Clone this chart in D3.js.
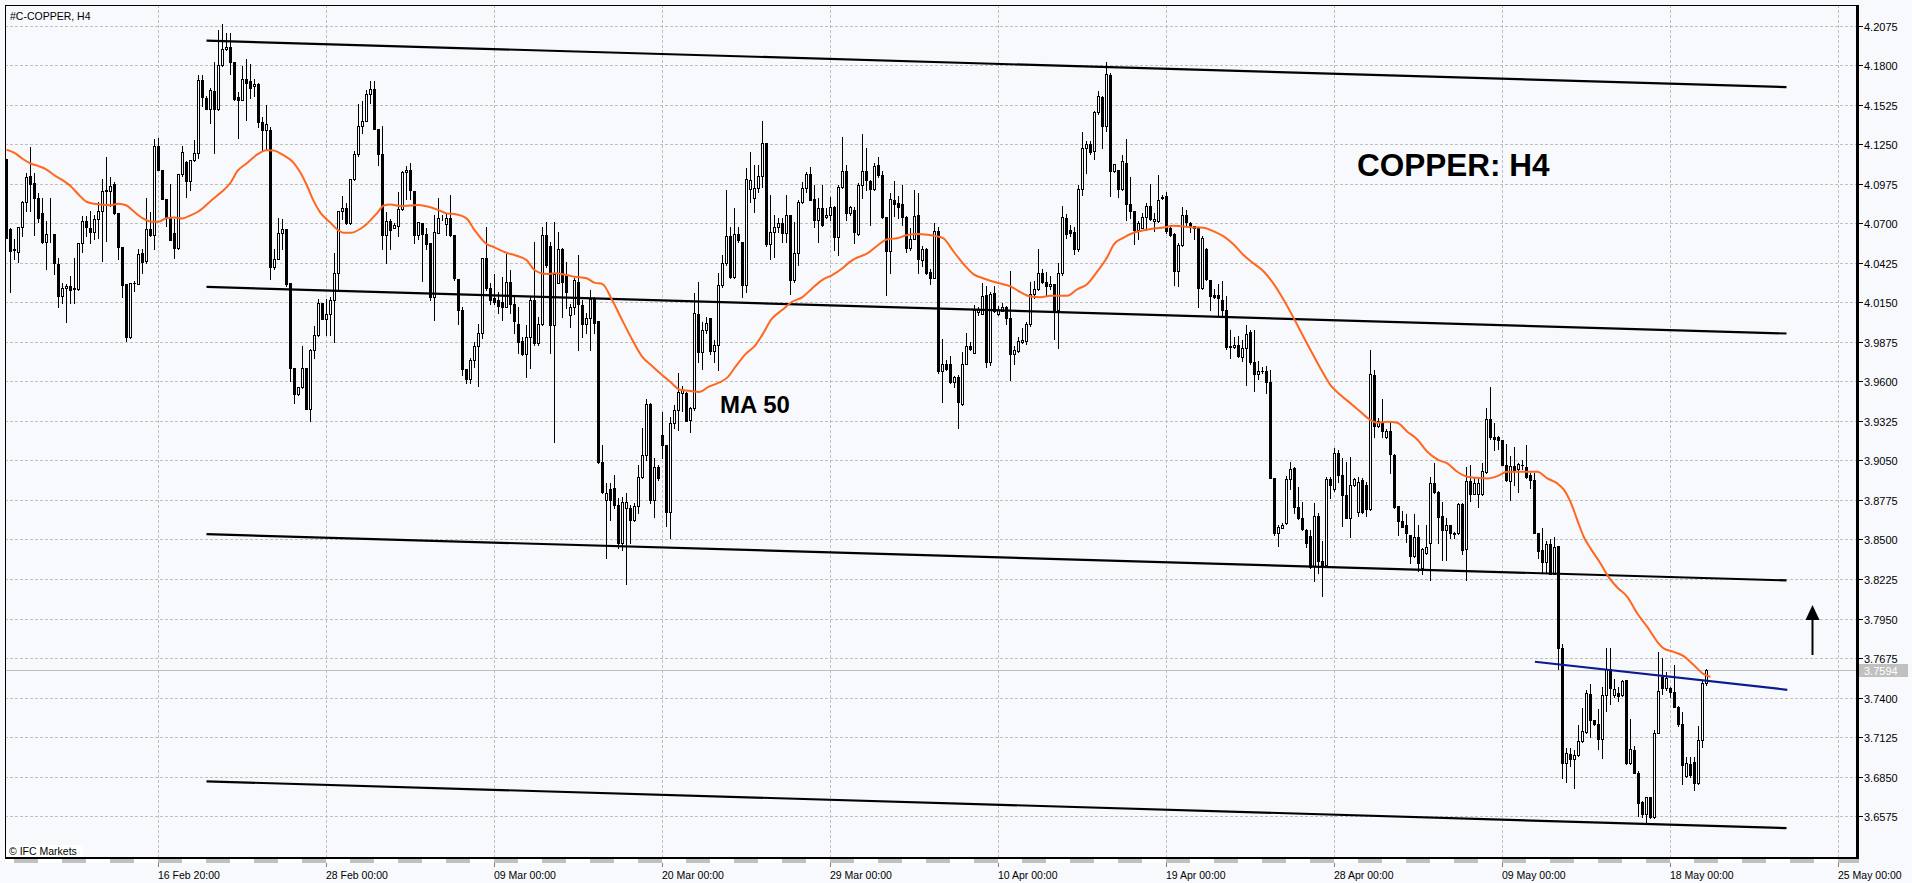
<!DOCTYPE html>
<html>
<head>
<meta charset="utf-8">
<script src="https://cdnjs.cloudflare.com/ajax/libs/d3/7.8.5/d3.min.js"></script>
<style>
html,body{margin:0;padding:0;background:#f8f9fd;overflow:hidden;}
svg{display:block;}
text{font-family:"Liberation Sans",Arial,sans-serif;}
</style>
</head>
<body>
<svg id="chart" width="1912" height="883"></svg>
<script>
// ---------------- DATA ----------------
const chartTitle = "#C-COPPER, H4";
const openP = [
4.1144,4.0662,4.0518,4.0502,4.0676,4.0847,4.1028,4.0982,4.0877,4.0769,
4.0569,4.0623,4.0623,4.0414,4.0194,4.0252,4.0264,4.0240,4.0245,4.0565,
4.0715,4.0669,4.0639,4.0727,4.0789,4.0928,4.0928,4.0970,4.0773,4.0534,
4.0280,3.9909,4.0287,4.0280,4.0495,4.0437,4.0657,4.0616,4.1237,4.1074,
4.0870,4.0738,4.0634,4.0525,4.1040,4.1125,4.0993,4.1139,4.1190,4.1700,
4.1572,4.1496,4.1623,4.1496,4.1804,4.1913,4.1927,4.1820,4.1579,4.1556,
4.1705,4.1693,4.1654,4.1672,4.1403,4.1348,4.1348,4.0395,4.0453,4.0634,
4.0657,4.0287,3.9696,3.9510,3.9561,3.9696,3.9406,3.9819,3.9920,4.0143,
4.0036,4.0066,4.0166,4.0356,4.0785,4.0808,4.0699,4.1005,4.1179,4.1380,
4.1410,4.1603,4.1635,4.1357,4.1179,4.0616,4.0715,4.0669,4.0681,4.0801,
4.1056,4.1074,4.0924,4.0616,4.0699,4.0623,4.0560,4.0189,4.0635,4.0727,
4.0695,4.0734,4.0618,4.0312,4.0096,3.9683,3.9614,3.9748,3.9846,3.9939,
4.0456,4.0247,4.0178,4.0166,4.0154,4.0120,4.0294,4.0138,3.9999,3.9883,
3.9790,3.9911,4.0166,3.9864,3.9999,4.0618,4.0542,3.9992,4.0287,4.0519,
4.0340,4.0062,4.0120,4.0294,4.0131,3.9999,4.0038,4.0171,4.0022,3.9041,
3.8774,3.8848,3.8855,3.8739,3.8472,3.8716,3.8716,3.8635,3.8732,3.8936,
3.9087,3.9442,3.8774,3.9006,3.9226,3.9157,3.8693,3.9312,3.9400,3.9516,
3.9516,3.9331,3.9412,4.0066,3.9806,3.9957,4.0038,3.9813,3.9853,4.0270,
4.0421,4.0611,4.0324,4.0623,4.0572,4.0270,4.0936,4.0874,4.0943,4.1031,
4.1256,4.0553,4.0642,4.0672,4.0704,4.0630,4.0758,4.0305,4.0495,4.0850,
4.0943,4.1043,4.0867,4.0723,4.0809,4.0746,4.0758,4.0816,4.0602,4.0950,
4.1064,4.0769,4.0793,4.0626,4.0967,4.1061,4.0992,4.0937,4.1106,4.1036,
4.0743,4.0509,4.0862,4.0842,4.0832,4.0743,4.0527,4.0594,4.0758,4.0445,
4.0519,4.0360,4.0321,4.0644,3.9670,3.9719,3.9719,3.9595,3.9632,3.9446,
3.9724,3.9848,3.9799,4.0080,4.0072,4.0204,3.9732,4.0216,4.0072,4.0092,
4.0117,4.0042,3.9789,3.9814,3.9873,3.9881,3.9998,4.0211,4.0246,4.0353,
4.0291,4.0261,4.0278,4.0097,4.0353,4.0738,4.0651,4.0639,4.0519,4.0942,
4.1223,4.1252,4.1205,4.1471,4.1578,4.1379,4.1732,4.1061,4.1074,4.0937,
4.1123,4.0833,4.0783,4.0651,4.0669,4.0743,4.0818,4.0713,4.0718,4.0882,
4.0887,4.0669,4.0626,4.0365,4.0552,4.0758,4.0701,4.0683,4.0664,4.0253,
4.0519,4.0308,4.0204,4.0201,4.0167,4.0097,3.9848,3.9838,3.9856,3.9769,
3.9831,3.9943,3.9732,3.9650,3.9675,3.9670,3.9598,3.8925,3.8542,3.8577,
3.8612,3.8918,3.8994,3.8728,3.8647,3.8565,3.8523,3.8315,3.8663,3.8352,
3.8322,3.8918,3.8848,3.9103,3.8948,3.8809,3.8651,3.8878,3.8693,3.8913,
3.8878,3.8709,3.9644,3.9289,3.9319,3.9210,3.9257,3.9087,3.8732,3.8630,
3.8600,3.8530,3.8384,3.8519,3.8298,3.8407,3.8472,3.8890,3.8832,3.8665,
3.8565,3.8600,3.8547,3.8542,3.8746,3.8431,3.8909,3.8816,3.8816,3.8816,
3.8971,3.9335,3.9210,3.9210,3.9192,3.9018,3.8909,3.9011,3.8987,3.9018,
3.9001,3.8948,3.8913,3.8542,3.8426,3.8345,3.8468,3.8259,3.8454,3.7742,
3.6946,3.7006,3.6969,3.7000,3.7099,3.7162,3.7428,3.7243,3.7215,3.7115,
3.7417,3.7602,3.7417,3.7433,3.7417,3.7521,3.6946,3.7034,3.6876,3.6674,
3.6589,3.6705,3.6570,3.7155,3.7540,3.7463,3.7463,3.7440,3.7336,3.7215,
3.6853,3.6941,3.6953,3.6802,3.7104,3.7498];
const highP = [
4.1144,4.0669,4.0588,4.0676,4.0854,4.1047,4.1230,4.1051,4.0912,4.0877,
4.0715,4.0877,4.0623,4.0460,4.0287,4.0275,4.0333,4.0460,4.0565,4.0750,
4.0750,4.0785,4.0755,4.0847,4.1010,4.1160,4.1021,4.0989,4.0773,4.0534,
4.0280,4.0287,4.0298,4.0518,4.0518,4.0877,4.0778,4.1288,4.1294,4.1074,
4.0870,4.0970,4.0727,4.1040,4.1237,4.1132,4.1139,4.1283,4.1735,4.1735,
4.1584,4.1642,4.1820,4.2047,4.2089,4.2024,4.2024,4.1820,4.1612,4.1797,
4.1844,4.1809,4.1705,4.1677,4.1440,4.1526,4.1371,4.0518,4.0738,4.0727,
4.0657,4.0287,3.9696,3.9561,3.9846,3.9696,3.9823,3.9985,4.0171,4.0143,
4.0171,4.0189,4.0495,4.0785,4.0889,4.0843,4.1005,4.1202,4.1531,4.1549,
4.1630,4.1688,4.1688,4.1357,4.1380,4.0778,4.0727,4.0704,4.0917,4.1063,
4.1102,4.1121,4.0924,4.0711,4.0704,4.0669,4.0560,4.0758,4.0874,4.0758,
4.0769,4.0897,4.0618,4.0312,4.0120,3.9683,3.9760,3.9876,4.0000,4.0456,
4.0676,4.0287,4.0347,4.0224,4.0328,4.0486,4.0375,4.0189,4.0120,3.9911,
3.9992,4.0189,4.0572,4.0050,4.0672,4.0711,4.0572,4.0711,4.0642,4.0526,
4.0433,4.0138,4.0317,4.0479,4.0166,4.0073,4.0236,4.0189,4.0022,3.9157,
3.8890,3.8890,3.8948,3.8786,3.8797,3.8820,3.8739,3.8751,3.9018,3.9273,
3.9475,3.9451,3.9064,3.9018,3.9389,3.9157,3.9354,3.9435,3.9656,3.9567,
3.9528,3.9424,4.0217,4.0294,4.0015,4.0050,4.0038,3.9888,4.0352,4.0479,
4.0932,4.0676,4.0804,4.0676,4.0572,4.1082,4.1198,4.1106,4.1106,4.1414,
4.1256,4.0897,4.0758,4.0734,4.0734,4.0897,4.0758,4.0711,4.0862,4.0990,
4.1059,4.1094,4.0966,4.0874,4.0966,4.0804,4.0885,4.0820,4.0966,4.1303,
4.1106,4.0820,4.0813,4.0982,4.1322,4.1223,4.0999,4.1123,4.1161,4.1061,
4.0743,4.0912,4.0991,4.0887,4.0967,4.0751,4.0664,4.0932,4.0912,4.0539,
4.0527,4.0385,4.0701,4.0676,3.9893,3.9749,3.9774,3.9640,3.9645,3.9806,
3.9935,3.9873,4.0129,4.0117,4.0286,4.0266,4.0221,4.0261,4.0122,4.0147,
4.0122,4.0370,3.9843,3.9906,3.9968,4.0013,4.0291,4.0296,4.0519,4.0385,
4.0360,4.0335,4.0278,4.0427,4.0818,4.0763,4.0688,4.0676,4.0967,4.1334,
4.1272,4.1272,4.1484,4.1620,4.1588,4.1819,4.1745,4.1116,4.1074,4.1173,
4.1285,4.1024,4.0788,4.0713,4.0775,4.0842,4.0974,4.0775,4.1036,4.0900,
4.0917,4.0688,4.0634,4.0564,4.0813,4.0793,4.0708,4.0683,4.0676,4.0614,
4.0527,4.0308,4.0246,4.0278,4.0296,4.0191,3.9955,3.9906,3.9913,3.9888,
3.9993,3.9955,3.9955,3.9744,3.9699,3.9707,3.9679,3.8925,3.8600,3.8612,
3.8941,3.9041,3.9001,3.8862,3.8762,3.8570,3.8565,3.8751,3.8681,3.8491,
3.8932,3.8936,3.9134,3.9122,3.9064,3.9041,3.9076,3.8925,3.8936,3.8925,
3.8902,3.9818,3.9679,3.9342,3.9475,3.9266,3.9319,3.9094,3.8732,3.8700,
3.8674,3.8530,3.8677,3.8600,3.8438,3.8600,3.8936,3.9029,3.8839,3.8762,
3.8646,3.8600,3.8554,3.8755,3.8751,3.9006,3.9018,3.8936,3.8918,3.9029,
3.9412,3.9563,3.9308,3.9219,3.9192,3.9164,3.9080,3.9145,3.9034,3.9052,
3.9157,3.8960,3.8960,3.8547,3.8577,3.8491,3.8500,3.8519,3.8454,3.7772,
3.7046,3.7046,3.7034,3.7208,3.7324,3.7452,3.7493,3.7247,3.7317,3.7475,
3.7742,3.7742,3.7526,3.7475,3.7521,3.7521,3.7254,3.7062,3.6890,3.6681,
3.6710,3.6705,3.7173,3.7718,3.7672,3.7579,3.7475,3.7626,3.7340,3.7301,
3.6983,3.6983,3.6988,3.7201,3.7521,3.7602];
const lowP = [
4.0599,4.0222,4.0449,4.0430,4.0611,4.0785,4.0785,4.0616,4.0708,4.0565,
4.0384,4.0569,4.0344,4.0120,4.0148,4.0013,4.0148,4.0148,4.0236,4.0500,
4.0611,4.0565,4.0588,4.0599,4.0437,4.0576,4.0819,4.0766,4.0453,4.0189,
3.9881,3.9904,4.0229,4.0280,4.0356,4.0426,4.0611,4.0523,4.1070,4.0866,
4.0680,4.0583,4.0460,4.0518,4.1028,4.0882,4.0935,4.1132,4.1155,4.1519,
4.1496,4.1399,4.1190,4.1491,4.1793,4.1909,4.1742,4.1561,4.1294,4.1556,
4.1422,4.1573,4.1584,4.1369,4.1202,4.1213,4.0314,4.0379,4.0449,4.0518,
4.0264,3.9603,3.9452,3.9503,3.9557,3.9406,3.9325,3.9765,3.9916,4.0032,
3.9920,3.9920,3.9874,4.0229,4.0727,4.0692,4.0692,4.1000,4.1167,4.1329,
4.1410,4.1538,4.1357,4.1109,4.0518,4.0426,4.0523,4.0667,4.0611,4.0796,
4.0866,4.0866,4.0560,4.0588,4.0298,4.0518,4.0166,4.0027,4.0630,4.0723,
4.0618,4.0611,4.0305,3.9999,3.9644,3.9586,3.9586,3.9702,3.9567,3.9899,
4.0236,4.0138,4.0138,4.0073,4.0027,4.0115,4.0073,3.9934,3.9795,3.9783,
3.9632,3.9690,3.9853,3.9853,3.9992,4.0398,3.9795,3.9180,4.0282,4.0050,
4.0108,3.9980,4.0069,3.9818,3.9911,3.9934,3.9818,3.9934,3.9029,3.8825,
3.8368,3.8635,3.8716,3.8438,3.8426,3.8189,3.8472,3.8630,3.8681,3.8925,
3.9052,3.8751,3.8658,3.8913,3.9064,3.8593,3.8507,3.9273,3.9261,3.9396,
3.9326,3.9250,3.9400,3.9737,3.9683,3.9934,3.9790,3.9737,3.9679,4.0259,
4.0410,4.0317,4.0317,4.0572,4.0189,4.0224,4.0850,4.0781,4.0920,4.0955,
4.0542,4.0449,4.0468,4.0642,4.0572,4.0572,4.0208,4.0294,4.0410,4.0839,
4.0920,4.0862,4.0676,4.0572,4.0681,4.0734,4.0723,4.0514,4.0479,4.0943,
4.0723,4.0758,4.0564,4.0619,4.0875,4.0932,4.0688,4.0932,4.1024,4.0738,
4.0204,4.0353,4.0750,4.0738,4.0688,4.0502,4.0514,4.0589,4.0353,4.0403,
4.0345,4.0278,4.0316,3.9657,3.9458,3.9682,3.9590,3.9558,3.9277,3.9433,
3.9719,3.9819,3.9799,4.0062,4.0067,3.9699,3.9714,4.0080,4.0062,4.0087,
3.9998,3.9607,3.9719,3.9806,3.9868,3.9863,3.9988,4.0179,4.0236,4.0286,
4.0196,4.0241,3.9898,3.9831,4.0340,4.0601,4.0614,4.0485,4.0509,4.0900,
4.1049,4.1185,4.1148,4.1464,4.1223,4.1339,4.0887,4.1056,4.0882,4.0932,
4.0726,4.0738,4.0559,4.0594,4.0664,4.0651,4.0726,4.0644,4.0708,4.0867,
4.0634,4.0614,4.0271,4.0266,4.0544,4.0683,4.0639,4.0594,4.0117,4.0246,
4.0303,4.0097,4.0179,4.0055,4.0047,3.9824,3.9764,3.9831,3.9769,3.9744,
3.9575,3.9724,3.9533,3.9620,3.9657,3.9516,3.8925,3.8530,3.8454,3.8577,
3.8607,3.8848,3.8681,3.8639,3.8565,3.8449,3.8298,3.8213,3.8268,3.8106,
3.8315,3.8786,3.8839,3.8902,3.8593,3.8646,3.8519,3.8871,3.8663,3.8681,
3.8663,3.8704,3.9210,3.9284,3.9210,3.9203,3.8964,3.8716,3.8530,3.8588,
3.8484,3.8333,3.8380,3.8282,3.8259,3.8398,3.8217,3.8825,3.8472,3.8356,
3.8356,3.8507,3.8507,3.8537,3.8398,3.8217,3.8769,3.8816,3.8728,3.8809,
3.8964,3.9196,3.9122,3.9127,3.9018,3.8909,3.8774,3.8878,3.8832,3.8987,
3.8925,3.8855,3.8542,3.8368,3.8268,3.8268,3.8259,3.8259,3.7602,3.6837,
3.6814,3.6923,3.6774,3.6992,3.7092,3.7155,3.7127,3.7208,3.7039,3.6976,
3.7308,3.7354,3.7405,3.7377,3.7412,3.6941,3.6937,3.6872,3.6575,3.6570,
3.6528,3.6565,3.6565,3.7150,3.7428,3.7452,3.7405,3.7331,3.7201,3.6798,
3.6848,3.6848,3.6760,3.6798,3.7057,3.7487];
const closeP = [
4.0599,4.0507,4.0514,4.0676,4.0847,4.1023,4.0975,4.0877,4.0738,4.0569,
4.0623,4.0627,4.0426,4.0194,4.0252,4.0264,4.0236,4.0249,4.0565,4.0715,
4.0676,4.0639,4.0727,4.0789,4.0928,4.0931,4.0963,4.0773,4.0534,4.0270,
3.9909,4.0287,4.0282,4.0488,4.0430,4.0657,4.0616,4.1241,4.1074,4.0870,
4.0738,4.0583,4.0525,4.1040,4.1195,4.0993,4.1139,4.1190,4.1700,4.1579,
4.1496,4.1630,4.1496,4.1804,4.1913,4.1927,4.1820,4.1568,4.1556,4.1705,
4.1677,4.1642,4.1672,4.1403,4.1348,4.1394,4.0395,4.0453,4.0634,4.0657,
4.0275,3.9696,3.9510,3.9561,3.9696,3.9411,3.9819,3.9920,4.0143,4.0036,
4.0066,4.0166,4.0356,4.0785,4.0808,4.0699,4.1005,4.1179,4.1380,4.1410,
4.1603,4.1635,4.1357,4.1179,4.0616,4.0715,4.0653,4.0685,4.0801,4.1056,
4.1074,4.0931,4.0616,4.0711,4.0623,4.0553,4.0189,4.0642,4.0734,4.0730,
4.0734,4.0618,4.0317,4.0096,3.9683,3.9614,3.9748,3.9846,3.9939,4.0456,
4.0247,4.0166,4.0154,4.0124,4.0120,4.0294,4.0138,4.0022,3.9876,3.9790,
3.9911,4.0166,3.9864,3.9999,4.0618,4.0410,3.9992,4.0347,4.0519,4.0294,
4.0224,4.0120,4.0305,4.0138,3.9999,4.0038,4.0171,4.0008,3.9041,3.8832,
3.8825,3.8774,3.8739,3.8472,3.8762,3.8758,3.8635,3.8732,3.8936,3.9087,
3.9442,3.8774,3.9006,3.8925,3.9157,3.8693,3.9312,3.9400,3.9528,3.9540,
3.9326,3.9412,4.0073,3.9806,3.9957,4.0008,3.9813,3.9853,4.0270,4.0421,
4.0611,4.0324,4.0623,4.0584,4.0270,4.1008,4.1001,4.0948,4.1031,4.1256,
4.0553,4.0642,4.0672,4.0700,4.0630,4.0758,4.0305,4.0495,4.0850,4.0943,
4.1043,4.0862,4.0723,4.0809,4.0688,4.0758,4.0816,4.0602,4.0950,4.1064,
4.0769,4.0811,4.0639,4.0967,4.1061,4.0999,4.0937,4.1098,4.1036,4.0743,
4.0509,4.0867,4.0837,4.0813,4.0743,4.0527,4.0594,4.0751,4.0452,4.0519,
4.0353,4.0321,4.0644,3.9670,3.9719,3.9689,3.9595,3.9632,3.9458,3.9724,
3.9843,3.9824,4.0097,4.0104,4.0196,3.9732,4.0211,4.0092,4.0097,4.0117,
4.0042,3.9789,3.9819,3.9881,3.9888,3.9998,4.0211,4.0241,4.0353,4.0291,
4.0266,4.0278,4.0097,4.0353,4.0743,4.0626,4.0634,4.0519,4.0942,4.1223,
4.1252,4.1198,4.1471,4.1583,4.1379,4.1737,4.1061,4.1111,4.0942,4.1131,
4.0833,4.0788,4.0651,4.0701,4.0743,4.0818,4.0733,4.0733,4.0862,4.0877,
4.0644,4.0619,4.0365,4.0552,4.0758,4.0708,4.0676,4.0664,4.0253,4.0601,
4.0311,4.0196,4.0186,4.0179,4.0097,3.9838,3.9838,3.9856,3.9774,3.9831,
3.9930,3.9732,3.9650,3.9675,3.9670,3.9595,3.8925,3.8542,3.8588,3.8600,
3.8918,3.8987,3.8723,3.8647,3.8570,3.8477,3.8310,3.8663,3.8352,3.8322,
3.8918,3.8878,3.9103,3.8948,3.8809,3.8651,3.8878,3.8918,3.8902,3.8693,
3.8709,3.9651,3.9289,3.9326,3.9257,3.9257,3.9094,3.8723,3.8630,3.8588,
3.8542,3.8384,3.8519,3.8333,3.8431,3.8449,3.8890,3.8832,3.8658,3.8565,
3.8600,3.8542,3.8537,3.8746,3.8426,3.8909,3.8816,3.8895,3.8890,3.8978,
3.9335,3.9210,3.9196,3.9192,3.9018,3.8913,3.9011,3.8983,3.9025,3.9015,
3.8932,3.8913,3.8542,3.8421,3.8345,3.8468,3.8259,3.8449,3.7742,3.6946,
3.7011,3.6969,3.7000,3.7099,3.7169,3.7433,3.7243,3.7215,3.7115,3.7417,
3.7602,3.7463,3.7456,3.7410,3.7517,3.6946,3.7039,3.6876,3.6667,3.6589,
3.6705,3.6570,3.7155,3.7447,3.7463,3.7533,3.7440,3.7336,3.7215,3.6930,
3.6946,3.6860,3.6802,3.7104,3.7498,3.7594];

// MA 50 line at bar positions
const maIndex = [0,2,4,6,8,10,12,14,16,18,20,22,24,26,28,30,32,34,36,38,40,42,44,46,48,51,53.5,56,57.7,60,62.7,65,66.8,69.3,71.8,73.5,75,76.8,78.5,81,82.7,84.3,86,88.5,90.2,92.7,94.3,96,98.5,101,103,105,108,110,112,115,117,120,122,125,127,130,132,135,137,140,142,145,147,149,151.4,153.9,156.4,158.9,161.4,163.9,166.4,168.1,170.6,173.1,175.6,178.1,180.25,182.25,184.75,187.25,188.9,191.4,193.9,196.4,198.9,201.4,203.9,206.4,208.9,210.6,212.25,213.5,215.2,217.7,220.2,222.7,225.2,227.7,230.2,232.7,234.3,236.8,239.3,241.8,244.3,247.7,251,253.5,256,258.5,261,265.2,267.7,270.2,272.7,275.2,276.8,279.3,281.8,284.3,286.8,289.3,291.8,294.3,296.8,299.3,301.8,304.3,306.8,309.3,311.8,314.3,316.8,318.5,326,328.5,331,333.5,336,338.5,341,342.7,345.2,347.7,350.2,352.7,355.2,357.7,360.2,362.7,365.2,367.7,370.2,372.7,375.2,380.2,382.7,385.2,387.7,389.3,391,392.7,394.3,396,398.5,400.2,402.7,405.2,407.7,410.2,412.7,414.3,416.8,419.3,421.8,424.3,426];
const maValue = [4.1213,4.1190,4.1149,4.1116,4.1098,4.1074,4.1033,4.1000,4.0959,4.0901,4.0850,4.0836,4.0829,4.0826,4.0836,4.0824,4.0778,4.0736,4.0713,4.0711,4.0736,4.0741,4.0734,4.0755,4.0782,4.0854,4.0912,4.0982,4.1063,4.1116,4.1179,4.1209,4.1206,4.1172,4.1121,4.1051,4.0970,4.0854,4.0773,4.0704,4.0657,4.0634,4.0634,4.0662,4.0699,4.0773,4.0824,4.0831,4.0819,4.0824,4.0828,4.0818,4.0792,4.0769,4.0765,4.0734,4.0653,4.0556,4.0533,4.0495,4.0479,4.0444,4.0375,4.0347,4.0352,4.0340,4.0328,4.0317,4.0287,4.0277,4.0166,4.0027,3.9892,3.9772,3.9707,3.9644,3.9586,3.9544,3.9535,3.9526,3.9563,3.9591,3.9628,3.9702,3.9790,3.9853,3.9922,4.0038,4.0096,4.0154,4.0185,4.0247,4.0305,4.0340,4.0386,4.0426,4.0456,4.0470,4.0490,4.0544,4.0589,4.0596,4.0619,4.0626,4.0621,4.0609,4.0594,4.0502,4.0415,4.0345,4.0316,4.0286,4.0261,4.0221,4.0191,4.0186,4.0196,4.0196,4.0241,4.0278,4.0365,4.0465,4.0552,4.0601,4.0634,4.0651,4.0664,4.0671,4.0683,4.0678,4.0671,4.0669,4.0644,4.0609,4.0552,4.0477,4.0420,4.0365,4.0278,4.0204,3.9818,3.9690,3.9574,3.9505,3.9447,3.9389,3.9331,3.9312,3.9319,3.9312,3.9250,3.9196,3.9110,3.9057,3.9029,3.8971,3.8936,3.8929,3.8925,3.8941,3.8971,3.8971,3.8971,3.8925,3.8890,3.8848,3.8762,3.8635,3.8519,3.8438,3.8333,3.8252,3.8166,3.8101,3.7985,3.7892,3.7788,3.7742,3.7718,3.7688,3.7626,3.7563,3.7544];

const priceTicks = [4.2075,4.1800,4.1525,4.1250,4.0975,4.0700,4.0425,4.0150,3.9875,3.9600,3.9325,3.9050,3.8775,3.8500,3.8225,3.7950,3.7675,3.7400,3.7125,3.6850,3.6575];
const timeTickIndex = [38,80,122,164,206,248,290,332,374,416,458];
const timeTickLabels = ["16 Feb 20:00","28 Feb 00:00","09 Mar 00:00","20 Mar 00:00","29 Mar 00:00","10 Apr 00:00","19 Apr 00:00","28 Apr 00:00","09 May 00:00","18 May 00:00","25 May 00:00"];

// channel trend lines (bar index / price at both ends)
const channelStartIndex = [50,50,50,50];
const channelEndIndex   = [445,445,445,445];
const channelStartPrice = [4.1971,4.0257,3.8537,3.6817];
const channelEndPrice   = [4.1648,3.9933,3.8215,3.6492];
// blue resistance line
const blueLineIndex = [382.1,445.2];
const blueLinePrice = [3.7649,3.7454];
const lastPrice = 3.7594;
const annotationTexts = ["COPPER: H4","MA 50","\u00A9 IFC Markets"];

// ---------------- DRAWING ----------------
const W = 1912, H = 883;
const L = 5, T = 5, R = 1857, B = 858;
const BG = "#f8f9fd";
const svg = d3.select("#chart");
const x = d3.scaleLinear().domain([0, 458]).range([6.5, 1838.5]);
const y = d3.scaleLinear().domain([3.62835, 4.2219]).range([B, T]);
const fmt = d3.format(".4f");
const crisp = v => Math.round(v) + 0.5;

svg.append("rect").attr("width", W).attr("height", H).attr("fill", BG);
svg.append("defs").append("clipPath").attr("id", "plotClip")
  .append("rect").attr("x", L).attr("y", T).attr("width", R - L).attr("height", B - T);

const plot = svg.append("g").attr("clip-path", "url(#plotClip)");

// grid
const grid = plot.append("g").attr("stroke", "#c0c0c0").attr("stroke-dasharray", "3,2").attr("shape-rendering", "crispEdges");
grid.selectAll("line.h").data(priceTicks).join("line").attr("class", "h")
  .attr("x1", L).attr("x2", R).attr("y1", d => crisp(y(d))).attr("y2", d => crisp(y(d)));
grid.selectAll("line.v").data(timeTickIndex).join("line").attr("class", "v")
  .attr("y1", T).attr("y2", B).attr("x1", d => Math.floor(x(d)) + 0.5).attr("x2", d => Math.floor(x(d)) + 0.5);

// current price line
plot.append("line").attr("x1", L).attr("x2", R)
  .attr("y1", crisp(y(lastPrice))).attr("y2", crisp(y(lastPrice)))
  .attr("stroke", "#c0c0c0").attr("shape-rendering", "crispEdges");

// candles
const idx = d3.range(openP.length);
const cg = plot.append("g").attr("shape-rendering", "crispEdges");
cg.selectAll("line.wick").data(idx).join("line").attr("class", "wick")
  .attr("x1", i => Math.floor(x(i)) + 0.5).attr("x2", i => Math.floor(x(i)) + 0.5)
  .attr("y1", i => Math.round(y(highP[i]))).attr("y2", i => Math.round(y(lowP[i])) + 1)
  .attr("stroke", "#000");
const bear = idx.filter(i => closeP[i] < openP[i]);
const bull = idx.filter(i => closeP[i] >= openP[i]);
cg.selectAll("rect.bear").data(bear).join("rect").attr("class", "bear")
  .attr("x", i => Math.floor(x(i)) - 1).attr("width", 3)
  .attr("y", i => Math.round(y(openP[i])))
  .attr("height", i => Math.max(1, Math.round(y(closeP[i])) - Math.round(y(openP[i])) + 1))
  .attr("fill", "#000");
cg.selectAll("rect.bull").data(bull).join("rect").attr("class", "bull")
  .attr("x", i => Math.floor(x(i)) - 0.5).attr("width", 2)
  .attr("y", i => Math.round(y(closeP[i])) + 0.5)
  .attr("height", i => Math.max(0, Math.round(y(openP[i])) - Math.round(y(closeP[i]))))
  .attr("fill", BG).attr("stroke", "#000");

// channel lines
plot.selectAll("line.chan").data(channelStartIndex.map((s, k) => k)).join("line").attr("class", "chan")
  .attr("x1", k => x(channelStartIndex[k])).attr("y1", k => y(channelStartPrice[k]))
  .attr("x2", k => x(channelEndIndex[k])).attr("y2", k => y(channelEndPrice[k]))
  .attr("stroke", "#000").attr("stroke-width", 2.2);

// MA 50
const maPts = maIndex.map((d, k) => [d, maValue[k]]);
plot.append("path").datum(maPts)
  .attr("d", d3.line().x(d => x(d[0])).y(d => y(d[1])).curve(d3.curveMonotoneX))
  .attr("fill", "none").attr("stroke", "#ff671f").attr("stroke-width", 2);

// blue line
plot.append("line")
  .attr("x1", x(blueLineIndex[0])).attr("y1", y(blueLinePrice[0]))
  .attr("x2", x(blueLineIndex[1])).attr("y2", y(blueLinePrice[1]))
  .attr("stroke", "#0b1a8c").attr("stroke-width", 2.2);

// annotations
plot.append("text").text(annotationTexts[0])
  .attr("x", x(337.6)).attr("y", y(4.1029))
  .attr("font-size", 31.5).attr("font-weight", "bold").attr("fill", "#000");
plot.append("text").text(annotationTexts[1])
  .attr("x", x(178.4)).attr("y", y(3.9378))
  .attr("font-size", 24).attr("font-weight", "bold").attr("fill", "#000");

// arrow
const ax = Math.floor(x(451.6)) + 0.5;
const aTip = y(3.8044), aTail = y(3.7696);
plot.append("line").attr("x1", ax).attr("x2", ax).attr("y1", aTip + 12).attr("y2", aTail)
  .attr("stroke", "#000").attr("stroke-width", 2);
plot.append("path").attr("d", `M${ax - 7},${aTip + 15} L${ax + 7},${aTip + 15} L${ax},${aTip} Z`).attr("fill", "#000");

// title
svg.append("text").text(chartTitle).attr("x", 10).attr("y", 20).attr("font-size", 10.5).attr("fill", "#000");

// copyright
svg.append("rect").attr("x", 7).attr("y", 845).attr("width", 76).attr("height", 12).attr("fill", "#fff");
svg.append("text").text(annotationTexts[2]).attr("x", 9).attr("y", 855).attr("font-size", 10.5).attr("fill", "#000");

// borders
svg.append("line").attr("x1", L + 0.5).attr("x2", L + 0.5).attr("y1", T).attr("y2", B + 1).attr("stroke", "#000");
svg.append("line").attr("x1", L).attr("x2", R).attr("y1", T + 0.5).attr("y2", T + 0.5).attr("stroke", "#000");
svg.append("rect").attr("x", R - 1).attr("y", T).attr("width", 3).attr("height", B - T + 2).attr("fill", "#000");
svg.append("rect").attr("x", L).attr("y", B - 1).attr("width", R - L + 1).attr("height", 2).attr("fill", "#000");

// bottom strip
const strip = svg.append("g");
strip.append("rect").attr("x", L).attr("y", B + 1).attr("width", R - L).attr("height", 4).attr("fill", "#fff");
strip.selectAll("rect.blk").data(d3.range(-20, 19)).join("rect").attr("class", "blk")
  .attr("x", k => 974 + 48 * k).attr("y", B + 1).attr("width", 24).attr("height", 4)
  .attr("fill", "#c0c0c0");
strip.append("rect").attr("x", R + 2).attr("y", B + 1).attr("width", 60).attr("height", 5).attr("fill", BG);
strip.append("rect").attr("x", 0).attr("y", B + 1).attr("width", L).attr("height", 5).attr("fill", BG);

// right axis
const ra = svg.append("g");
ra.selectAll("line").data(priceTicks).join("line")
  .attr("x1", R + 2).attr("x2", R + 6).attr("y1", d => crisp(y(d))).attr("y2", d => crisp(y(d)))
  .attr("stroke", "#000").attr("shape-rendering", "crispEdges");
ra.selectAll("text").data(priceTicks).join("text")
  .attr("x", R + 7).attr("y", d => Math.round(y(d)) + 4.5)
  .attr("font-size", 11).attr("fill", "#000").text(d => fmt(d));
// last price tag
const ly = Math.round(y(lastPrice));
ra.append("rect").attr("x", R + 2).attr("y", ly - 6).attr("width", 49).attr("height", 13).attr("fill", "#c0c0c0");
ra.append("text").attr("x", R + 7).attr("y", ly + 4.5).attr("font-size", 11).attr("fill", "#fff").text(fmt(lastPrice));

// bottom axis
const ba = svg.append("g");
ba.selectAll("line").data(timeTickIndex).join("line")
  .attr("x1", d => Math.floor(x(d)) + 0.5).attr("x2", d => Math.floor(x(d)) + 0.5)
  .attr("y1", B + 5).attr("y2", B + 9).attr("stroke", "#808080");
ba.selectAll("text").data(timeTickIndex).join("text")
  .attr("x", d => Math.floor(x(d))).attr("y", 879)
  .attr("font-size", 10.5).attr("fill", "#000").text((d, k) => timeTickLabels[k]);
</script>
</body>
</html>
